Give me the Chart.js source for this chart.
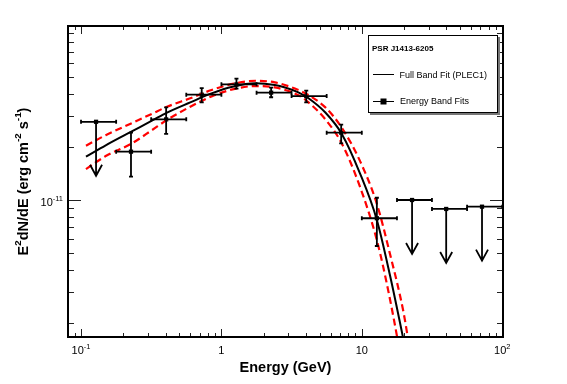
<!DOCTYPE html>
<html lang="en">
<head>
  <meta charset="UTF-8" />
  <title>PSR J1413-6205 spectral energy distribution</title>
  <script src="https://cdn.jsdelivr.net/npm/chart.js"></script>
  <style>
    html, body { margin: 0; padding: 0; background: #fff; }
    #wrap { width: 567px; height: 384px; }
  </style>
</head>
<body>
<div id="wrap"><canvas id="sed" width="567" height="384"></canvas></div>

<script>
  // Energy band fits (GeV, erg cm^-2 s^-1)
  const energy   = [0.128, 0.227, 0.404, 0.724, 1.28, 2.26, 4.02, 7.13, 12.8, 22.8, 39.9, 71.8];
  const eLow     = [0.1, 0.178, 0.316, 0.562, 1, 1.78, 3.16, 5.62, 10, 17.8, 31.6, 56.2];
  const eHigh    = [0.178, 0.316, 0.562, 1, 1.78, 3.16, 5.62, 10, 17.8, 31.6, 56.2, 100];
  const flux     = [2.79e-11, 1.885e-11, 2.88e-11, 3.98e-11, 4.56e-11, 4.09e-11, 3.91e-11, 2.42e-11, 7.87e-12, 1.0e-11, 8.89e-12, 9.16e-12];
  const fluxLo   = [null, 1.36e-11, 2.38e-11, 3.6e-11, 4.31e-11, 3.85e-11, 3.6e-11, 2.1e-11, 5.47e-12, null, null, null];
  const fluxHi   = [null, 2.42e-11, 3.37e-11, 4.34e-11, 4.92e-11, 4.37e-11, 4.2e-11, 2.69e-11, 1.03e-11, null, null, null];
  const upperLimit = [true, false, false, false, false, false, false, false, false, true, true, true];

  // Full band fit (PLEC1) and its 1-sigma band
  const modelE = [0.1085, 0.15, 0.23, 0.32, 0.41, 0.6, 0.85, 1.2, 1.75, 2.4, 2.84, 3.5, 4.17, 5.5, 7.2, 9.7, 12.8, 15.9, 19.8, 22];
  const modelF = [1.765e-11, 2.05e-11, 2.46e-11, 2.83e-11, 3.15e-11, 3.6e-11, 4.05e-11, 4.42e-11, 4.62e-11, 4.52e-11, 4.38e-11, 4.12e-11, 3.8e-11, 3.15e-11, 2.38e-11, 1.42e-11, 7.7e-12, 3.7e-12, 1.6e-12, 1.05e-12];
  const bandE  = [0.1085, 0.15, 0.23, 0.32, 0.41, 0.6, 0.85, 1.2, 1.75, 2.4, 3.5, 4.17, 5.5, 7.2, 9.7, 12.8, 15.9, 19.8, 22, 24];
  const bandHi = [2.04e-11, 2.34e-11, 2.74e-11, 3.1e-11, 3.4e-11, 3.8e-11, 4.23e-11, 4.59e-11, 4.78e-11, 4.68e-11, 4.25e-11, 3.96e-11, 3.37e-11, 2.58e-11, 1.67e-11, 9.5e-12, 4.9e-12, 2.3e-12, 1.39e-12, 9.1e-13];
  const bandLo = [1.5e-11, 1.78e-11, 2.1e-11, 2.5e-11, 2.86e-11, 3.4e-11, 3.89e-11, 4.27e-11, 4.46e-11, 4.38e-11, 3.97e-11, 3.6e-11, 2.88e-11, 2.1e-11, 1.19e-11, 5.9e-12, 2.7e-12, 1.02e-12, 5.8e-13, 3.0e-13];

  // axis labels
  const xTicks = [0.1, 1, 10, 100];
  const xTickText = [[['10', 0], ['-1', 1]], [['1', 0]], [['10', 0]], [['10', 0], ['2', 1]]];
  const yTicks = [1e-11];
  const yTickText = [[['10', 0], ['-11', 1]]];
  const xTitle = 'Energy (GeV)';
  const yTitle = [['E', 0], ['2', 1], ['dN/dE (erg cm', 0], ['-2', 1], [' s', 0], ['-1', 1], [')', 0]];
  const legendTitle = 'PSR J1413-6205';
  const legendModel = 'Full Band Fit (PLEC1)';
  const legendPoints = 'Energy Band Fits';

  const FONT = '"Liberation Sans", Arial, Helvetica, sans-serif';

  function richText(ctx, parts, x, y, size, bold, align) {
    const fontFor = sup => (bold ? 'bold ' : '') + (sup ? size * 0.68 : size) + 'px ' + FONT;
    const widths = parts.map(p => { ctx.font = fontFor(p[1]); return ctx.measureText(p[0]).width; });
    const total = widths.reduce((a, b) => a + b, 0);
    let cx = align === 'center' ? x - total / 2 : align === 'right' ? x - total : x;
    ctx.textAlign = 'left';
    ctx.textBaseline = 'alphabetic';
    parts.forEach((p, i) => {
      ctx.font = fontFor(p[1]);
      ctx.fillText(p[0], cx, p[1] ? y - size * 0.45 : y);
      cx += widths[i];
    });
  }

  const xy = (xs, ys) => xs.map((v, i) => ({ x: v, y: ys[i] }));

  // error bars and upper-limit arrows
  const errorBars = {
    id: 'errorBars',
    afterDatasetsDraw(chart) {
      const ctx = chart.ctx, sx = chart.scales.x, sy = chart.scales.y;
      ctx.save();
      ctx.strokeStyle = '#000';
      ctx.lineWidth = 1.8;
      const cap = 2;
      energy.forEach((e, i) => {
        const px = sx.getPixelForValue(e), py = sy.getPixelForValue(flux[i]);
        const xl = sx.getPixelForValue(eLow[i]), xh = sx.getPixelForValue(eHigh[i]);
        ctx.beginPath();
        ctx.moveTo(xl, py); ctx.lineTo(xh, py);
        ctx.moveTo(xl, py - cap); ctx.lineTo(xl, py + cap);
        ctx.moveTo(xh, py - cap); ctx.lineTo(xh, py + cap);
        if (upperLimit[i]) {
          const tip = py + 54;
          ctx.moveTo(px, py); ctx.lineTo(px, tip);
          ctx.moveTo(px - 6, tip - 11); ctx.lineTo(px, tip); ctx.lineTo(px + 6, tip - 11);
        } else {
          const yt = sy.getPixelForValue(fluxHi[i]), yb = sy.getPixelForValue(fluxLo[i]);
          ctx.moveTo(px, yt); ctx.lineTo(px, yb);
          ctx.moveTo(px - cap, yt); ctx.lineTo(px + cap, yt);
          ctx.moveTo(px - cap, yb); ctx.lineTo(px + cap, yb);
        }
        ctx.stroke();
      });
      ctx.restore();
    }
  };

  // ROOT-style frame, inner ticks, labels and legend box
  const frame = {
    id: 'frame',
    afterDraw(chart) {
      const ctx = chart.ctx, a = chart.chartArea, sx = chart.scales.x, sy = chart.scales.y;
      ctx.save();
      ctx.strokeStyle = '#222';
      ctx.lineWidth = 1;
      ctx.beginPath();
      for (let d = -2; d <= 2; d++) {
        for (let k = 1; k <= 9; k++) {
          const v = k * Math.pow(10, d);
          if (v < sx.min || v > sx.max) continue;
          const p = Math.round(sx.getPixelForValue(v)) + 0.5;
          const len = k === 1 ? 8 : 4;
          ctx.moveTo(p, a.bottom); ctx.lineTo(p, a.bottom - len);
          ctx.moveTo(p, a.top); ctx.lineTo(p, a.top + len);
        }
      }
      for (let d = -13; d <= -10; d++) {
        for (let k = 1; k <= 9; k++) {
          const v = k * Math.pow(10, d);
          if (v < sy.min || v > sy.max) continue;
          const p = Math.round(sy.getPixelForValue(v)) + 0.5;
          const len = k === 1 ? 13 : 6;
          ctx.moveTo(a.left, p); ctx.lineTo(a.left + len, p);
          ctx.moveTo(a.right, p); ctx.lineTo(a.right - len, p);
        }
      }
      ctx.stroke();

      ctx.strokeStyle = '#000';
      ctx.lineWidth = 2;
      ctx.strokeRect(a.left, a.top, a.right - a.left, a.bottom - a.top);

      ctx.fillStyle = '#000';
      xTicks.forEach((v, i) => richText(ctx, xTickText[i], sx.getPixelForValue(v), 354, 11, false, 'center'));
      yTicks.forEach((v, i) => richText(ctx, yTickText[i], 63, sy.getPixelForValue(v) + 6, 11, false, 'right'));

      richText(ctx, [[xTitle, 0]], (a.left + a.right) / 2, 372, 14.5, true, 'center');
      ctx.save();
      ctx.translate(28, (a.top + a.bottom) / 2);
      ctx.rotate(-Math.PI / 2);
      richText(ctx, yTitle, 0, 0, 14.5, true, 'center');
      ctx.restore();

      // legend
      const bx = 368, by = 35, bw = 130, bh = 78;
      ctx.fillStyle = '#777';
      ctx.fillRect(bx + 2, by + 2, bw, bh);
      ctx.fillStyle = '#fff';
      ctx.fillRect(bx, by, bw, bh);
      ctx.strokeStyle = '#000';
      ctx.lineWidth = 1;
      ctx.strokeRect(bx + 0.5, by + 0.5, bw - 1, bh - 1);
      ctx.fillStyle = '#000';
      richText(ctx, [[legendTitle, 0]], 372, 50.5, 8, true, 'left');
      richText(ctx, [[legendModel, 0]], 399.5, 77.5, 9, false, 'left');
      richText(ctx, [[legendPoints, 0]], 400, 104, 9, false, 'left');
      ctx.beginPath();
      ctx.moveTo(373, 74.5); ctx.lineTo(394, 74.5);
      ctx.moveTo(373, 101.5); ctx.lineTo(394, 101.5);
      ctx.stroke();
      ctx.fillRect(380.5, 98.5, 6, 6);
      ctx.restore();
    }
  };

  new Chart(document.getElementById('sed'), {
    type: 'line',
    data: {
      datasets: [
        {
          label: 'band upper',
          data: xy(bandE, bandHi),
          borderColor: '#ff0000',
          borderWidth: 2.2,
          borderDash: [7, 4],
          pointRadius: 0,
          cubicInterpolationMode: 'monotone',
          fill: false
        },
        {
          label: 'band lower',
          data: xy(bandE, bandLo),
          borderColor: '#ff0000',
          borderWidth: 2.2,
          borderDash: [7, 4],
          pointRadius: 0,
          cubicInterpolationMode: 'monotone',
          fill: false
        },
        {
          label: legendModel,
          data: xy(modelE, modelF),
          borderColor: '#000',
          borderWidth: 2,
          pointRadius: 0,
          cubicInterpolationMode: 'monotone',
          fill: false
        },
        {
          label: legendPoints,
          data: xy(energy, flux),
          showLine: false,
          pointStyle: 'rect',
          pointRadius: 3,
          backgroundColor: '#000',
          borderColor: '#000',
          borderWidth: 0
        }
      ]
    },
    options: {
      responsive: false,
      animation: false,
      devicePixelRatio: 1,
      layout: { padding: { top: 26, right: 64, left: 0, bottom: 0 } },
      plugins: { legend: { display: false }, tooltip: { enabled: false } },
      scales: {
        x: {
          type: 'logarithmic',
          min: 0.0808,
          max: 101.3,
          grid: { display: false },
          border: { display: false },
          ticks: { display: false },
          afterFit: s => { s.height = 47; }
        },
        y: {
          type: 'logarithmic',
          min: 1.657e-12,
          max: 9.805e-11,
          grid: { display: false },
          border: { display: false },
          ticks: { display: false },
          afterFit: s => { s.width = 68; }
        }
      }
    },
    plugins: [errorBars, frame]
  });
</script>
</body>
</html>
